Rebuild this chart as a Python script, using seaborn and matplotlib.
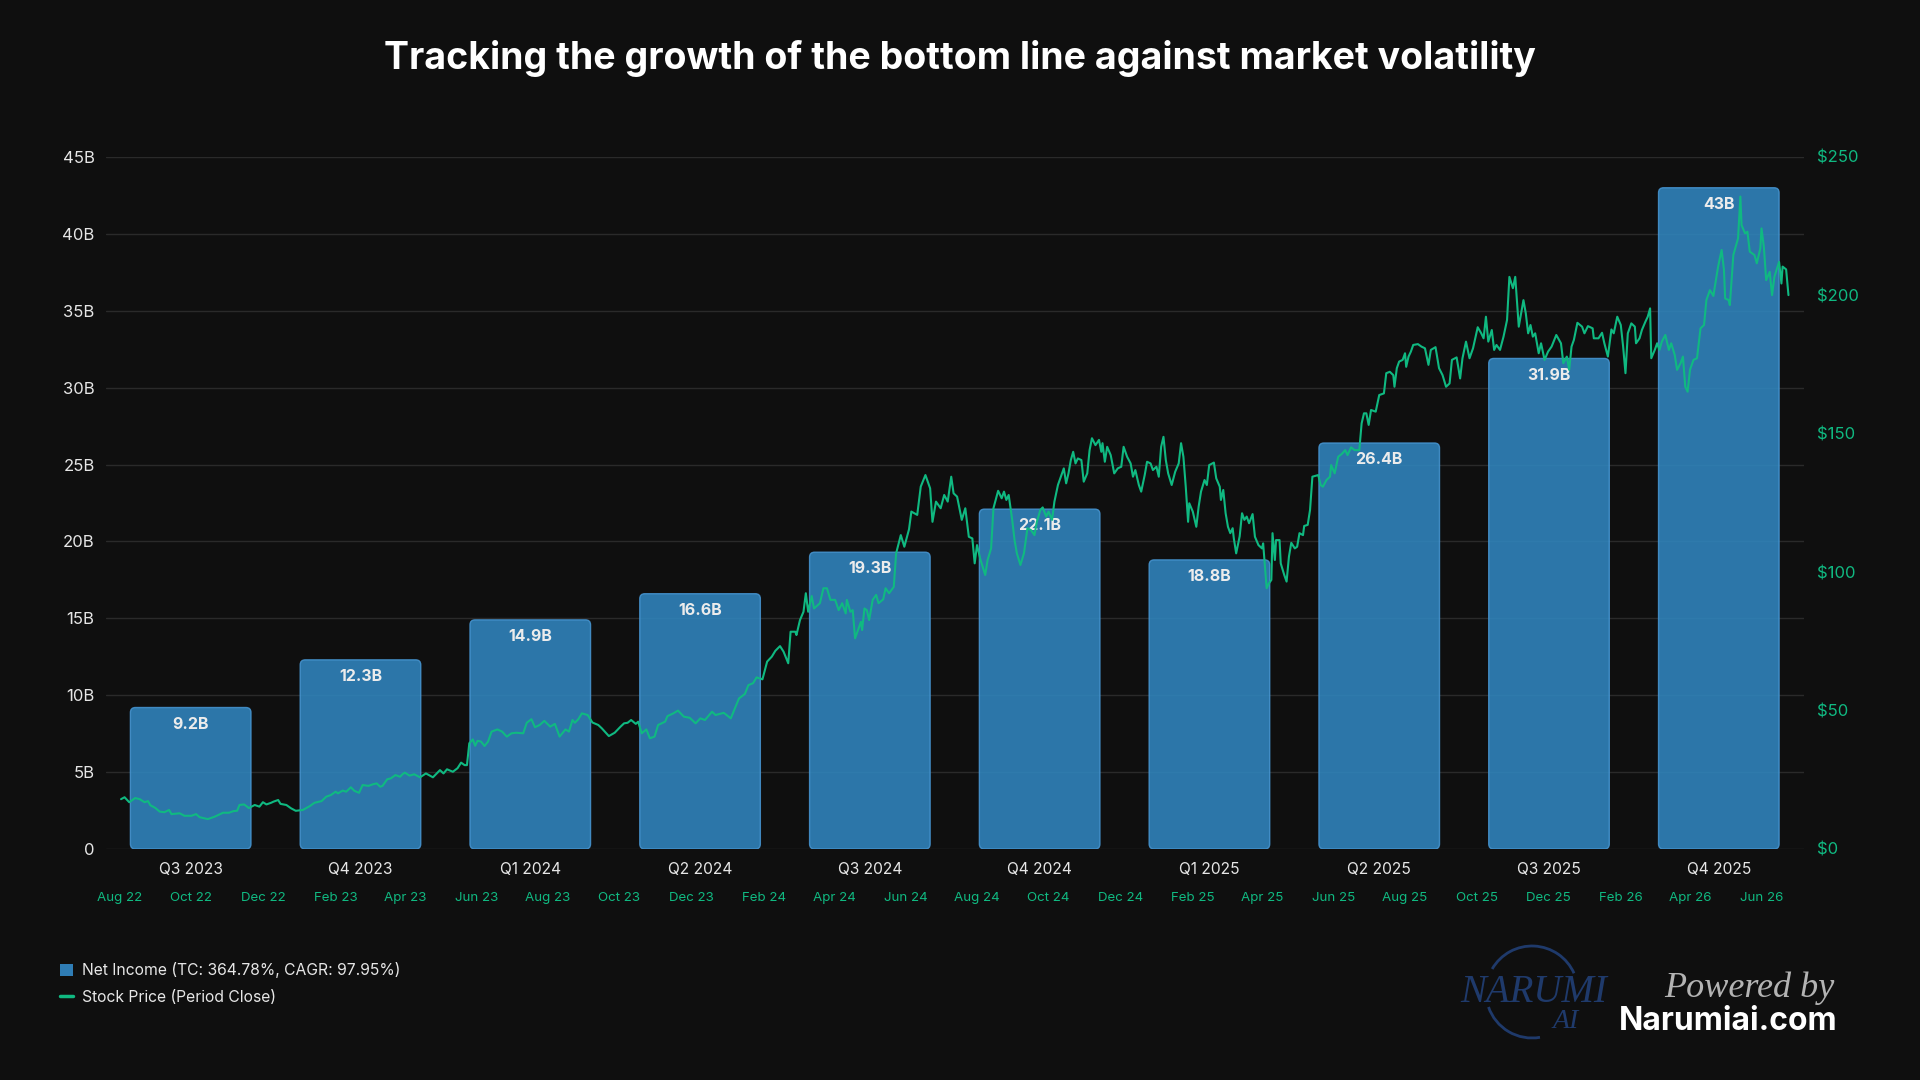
import matplotlib
matplotlib.use("Agg")
import matplotlib.pyplot as plt
import matplotlib.dates as mdates
from matplotlib.patches import FancyBboxPatch, Arc, Patch
from matplotlib.lines import Line2D
from matplotlib.ticker import FuncFormatter, MultipleLocator
import seaborn as sns
import pandas as pd

# ---------------- data ----------------
title = "Tracking the growth of the bottom line against market volatility"
quarters = ["Q3 2023", "Q4 2023", "Q1 2024", "Q2 2024", "Q3 2024",
            "Q4 2024", "Q1 2025", "Q2 2025", "Q3 2025", "Q4 2025"]
net_income_b = [9.2, 12.3, 14.9, 16.6, 19.3, 22.1, 18.8, 26.4, 31.9, 43.0]
bar_labels = ["9.2B", "12.3B", "14.9B", "16.6B", "19.3B",
              "22.1B", "18.8B", "26.4B", "31.9B", "43B"]
legend_labels = ["Net Income (TC: 364.78%, CAGR: 97.95%)",
                 "Stock Price (Period Close)"]

price_start = "2022-08-01"
price_days = [
    1, 4, 8, 13, 17, 21, 24, 26, 30, 34, 38, 42, 44, 51, 55, 61, 65, 68, 75, 81,
    88, 93, 97, 100, 102, 106, 110, 115, 119, 122, 125, 129, 131, 135, 137, 142, 146, 150, 156, 162,
    166, 172, 176, 180, 184, 186, 190, 193, 197, 200, 204, 207, 212, 216, 219, 222, 224, 228, 231, 235,
    239, 241,
    243, 247, 251, 256, 261, 267, 273, 276, 279, 284, 288, 291, 294, 296, 298, 301, 303, 305, 308, 311,
    314, 317, 322, 326, 330, 334, 338, 344, 347, 351, 354, 358, 362, 367, 371, 375, 380, 383, 386, 388,
    391, 394, 399, 403, 408, 411, 417, 422, 427, 430, 433, 436, 440, 442, 445, 449, 452, 456, 459, 465,
    467, 472, 476,
    481, 486, 491, 495, 499, 505, 508, 515, 521, 528, 533, 536, 540, 543, 548, 552, 556, 559, 563, 566,
    570, 572, 576, 577, 580, 583, 585, 587, 590, 592, 597, 600, 603, 606, 610, 613, 616, 619, 620, 623,
    625, 627, 632, 633, 635, 637, 639, 642, 645, 647, 651, 653, 656, 660, 662, 666, 669, 673, 675, 680,
    683, 687, 691, 693, 696, 700, 703, 706, 709, 711, 714,
    718, 721, 724, 727, 729, 731, 734, 738, 740, 743, 745, 749, 752, 754, 756, 758, 761, 763, 765, 768,
    771, 774, 777, 780, 782, 785, 787, 790, 792, 795, 797, 800, 802, 805, 807, 809, 811, 813, 815, 817,
    820, 822, 825, 827, 829, 832, 835, 837, 838, 840, 842, 845, 848, 851, 854, 856, 859, 862, 864, 866,
    869, 871, 874, 876, 879, 881, 884, 886, 888, 890, 892, 894, 897, 900, 903, 905, 907, 909, 911, 912,
    915, 918, 920, 922, 925, 927, 929, 933, 935, 938, 939, 941, 943, 945, 947, 949, 950, 952,
    955, 957, 959, 961, 963, 966, 968, 971, 974, 975, 978, 980, 982, 983, 985, 986, 989, 990, 993, 995,
    997, 999, 1002, 1004, 1006, 1009, 1010, 1013, 1015, 1017, 1022, 1024, 1026, 1029, 1032, 1033, 1036, 1039, 1042, 1045,
    1047, 1050, 1053, 1057, 1059, 1061, 1063, 1065, 1067, 1071, 1074, 1078, 1080, 1083, 1086, 1087, 1089, 1091, 1094, 1096,
    1097, 1099, 1101, 1103, 1107, 1110, 1113, 1116, 1118, 1122, 1125, 1128, 1131, 1134, 1136, 1140, 1143, 1145, 1148, 1151,
    1154, 1158, 1161, 1163, 1165, 1167, 1170, 1172, 1174, 1177, 1180, 1183, 1185, 1188, 1190,
    1193, 1197, 1199, 1201, 1203, 1205, 1207, 1210, 1212, 1215, 1218, 1221, 1225, 1229, 1231, 1234, 1236, 1238, 1240, 1243,
    1247, 1249, 1252, 1256, 1257, 1261, 1264, 1266, 1269, 1272, 1274, 1277, 1280, 1282, 1284, 1286, 1289, 1292, 1293, 1296,
    1298, 1301, 1303, 1305, 1306, 1309, 1311, 1313, 1315, 1318, 1321, 1323, 1326, 1328, 1331, 1333, 1335, 1337, 1339, 1342,
    1345, 1348, 1351, 1353, 1356, 1359, 1360, 1363, 1366, 1368, 1369, 1372, 1373, 1376, 1380, 1382, 1383, 1386, 1388, 1390,
    1394, 1396, 1399, 1400, 1402, 1404, 1407, 1409, 1411, 1415, 1417, 1418, 1421, 1423,
]
price_close = [
    18.0, 18.7, 16.9, 18.4, 18.0, 16.9, 17.3, 15.8, 14.9, 13.5, 13.3, 14.1, 12.6, 12.9, 12.0, 12.0, 12.6, 11.5, 10.8, 11.7,
    13.1, 13.1, 13.7, 13.8, 15.9, 16.1, 14.8, 15.9, 15.3, 16.9, 16.1, 16.7, 17.1, 17.7, 16.3, 15.9, 14.7, 13.8, 14.1, 15.5,
    16.7, 17.3, 18.9, 19.5, 20.7, 20.1, 21.1, 20.7, 22.3, 21.0, 20.3, 23.1, 22.8, 23.4, 23.7, 22.5, 22.8, 25.2, 25.5, 26.7,
    26.1, 27.0,
    27.6, 26.5, 27.0, 25.9, 27.3, 25.9, 28.5, 27.3, 28.8, 27.9, 29.2, 31.2, 30.3, 30.3, 38.2, 39.6, 37.3, 39.1, 38.8, 37.2,
    38.8, 42.4, 43.2, 42.4, 40.6, 41.8, 42.0, 41.8, 45.6, 46.9, 44.0, 44.8, 46.3, 44.2, 45.2, 40.6, 43.2, 42.4, 46.6, 45.6,
    46.9, 49.0, 48.4, 45.7, 44.8, 43.6, 40.8, 42.0, 44.2, 45.4, 45.6, 46.6, 45.2, 46.0, 41.8, 43.2, 40.0, 40.6, 44.8, 46.0,
    48.0, 49.0, 50.0,
    47.8, 47.4, 45.4, 47.2, 46.6, 49.6, 48.4, 49.2, 47.2, 54.4, 56.0, 59.2, 59.9, 62.0, 61.3, 67.7, 69.5, 71.6, 73.3, 71.3,
    67.1, 78.5, 78.5, 77.3, 82.7, 85.7, 92.4, 85.7, 91.4, 86.9, 88.8, 94.2, 94.2, 90.0, 90.0, 86.3, 88.8, 85.1, 90.0, 85.7,
    86.3, 76.1, 82.1, 79.1, 86.9, 86.3, 82.7, 90.0, 91.8, 88.8, 90.2, 94.2, 92.4, 94.7, 106.8, 113.4, 109.2, 115.5, 121.9, 120.7,
    130.9, 135.1, 130.3, 118.2, 125.5, 123.1, 127.9, 125.5, 134.5, 128.5, 127.3,
    118.9, 123.1, 112.8, 112.2, 103.2, 109.8, 104.4, 99.0, 104.4, 108.6, 123.1, 129.4, 126.7, 129.1, 126.1, 127.9, 118.9, 111.6, 106.8, 102.6,
    106.8, 115.9, 115.2, 113.4, 118.2, 122.5, 123.4, 120.1, 121.9, 118.9, 125.5, 131.5, 133.9, 137.5, 132.1, 135.7, 140.5, 143.5, 139.3, 141.1,
    140.5, 132.7, 135.7, 144.1, 148.4, 145.9, 147.8, 143.5, 146.6, 139.9, 145.3, 142.3, 135.7, 137.5, 138.1, 145.3, 141.7, 139.3, 134.5, 136.9,
    131.5, 129.1, 135.1, 139.9, 139.3, 136.9, 138.1, 134.5, 145.3, 148.9, 140.5, 135.7, 131.5, 136.3, 139.3, 146.6, 141.7, 130.9, 118.2, 124.9,
    121.9, 116.4, 123.7, 129.1, 133.3, 131.5, 138.7, 139.6, 133.9, 130.9, 126.1, 129.7, 121.3, 116.4, 114.1, 115.9, 112.2, 106.8,
    113.0, 121.3, 118.9, 120.1, 117.7, 121.0, 112.8, 109.8, 108.6, 110.4, 94.2, 96.0, 97.2, 114.1, 104.4, 111.6, 111.6, 103.2, 99.0, 96.6,
    105.6, 110.6, 108.6, 109.2, 114.1, 113.4, 116.7, 117.1, 122.5, 134.5, 135.1, 131.5, 130.9, 133.3, 134.5, 138.7, 135.7, 141.7, 142.7, 144.1,
    142.3, 145.1, 144.1, 144.1, 153.8, 157.4, 157.4, 153.2, 158.6, 158.0, 164.0, 164.6, 171.9, 172.4, 171.2, 167.0, 173.7, 176.1, 176.7, 179.1,
    174.2, 177.9, 179.7, 182.1, 182.4, 181.5, 180.9, 174.9, 180.3, 181.3, 173.7, 171.2, 167.0, 168.2, 176.7, 177.6, 170.0, 177.3, 183.3, 177.3,
    180.9, 188.5, 186.3, 184.5, 192.3, 183.3, 187.5, 180.3, 182.1, 180.3, 185.1, 191.1, 206.7, 202.6, 206.7,
    188.7, 198.3, 193.5, 186.3, 189.3, 185.1, 186.3, 179.1, 182.7, 176.7, 179.7, 181.5, 185.7, 182.7, 175.5, 177.9, 173.1, 181.5, 183.9, 190.1,
    188.7, 186.3, 188.9, 188.1, 184.5, 184.5, 186.5, 182.7, 177.9, 187.7, 186.3, 192.3, 189.3, 181.5, 171.9, 186.3, 189.9, 188.7, 182.7, 184.5,
    187.5, 190.5, 192.3, 195.3, 177.3, 180.3, 182.7, 180.3, 183.3, 185.7, 180.3, 182.7, 178.5, 173.1, 175.5, 177.9, 167.0, 165.2, 173.1, 176.7,
    177.3, 188.1, 189.3, 198.3, 201.9, 199.8, 202.6, 210.4, 216.4, 209.2, 198.9, 198.3, 196.5, 214.6, 220.6, 235.7, 225.4, 222.4, 223.0, 215.8,
    214.6, 211.6, 217.0, 224.2, 217.6, 205.5, 208.5, 200.1, 206.7, 212.1, 204.3, 210.4, 209.4, 200.1,
]

# ---------------- style ----------------
BG = "#0f0f0f"
BAR = "#3188c3"
BAR_EDGE = "#4796d3"
GREEN = "#10b981"
GRID = "#2a2a2a"
TXT = "#e6e6e6"

sns.set_theme(style="dark", rc={
    "axes.facecolor": BG, "figure.facecolor": BG,
    "axes.edgecolor": BG, "text.color": TXT,
})
plt.rcParams["font.family"] = ["Inter", "DejaVu Sans"]

fig = plt.figure(figsize=(19.2, 10.8), dpi=100)
fig.patch.set_facecolor(BG)
rect = [0.0551, 0.21389, 0.88433, 0.64074]

# ---------------- bars ----------------
ax = fig.add_axes(rect)
ax.set_facecolor(BG)
df_bars = pd.DataFrame({"quarter": quarters, "net_income": net_income_b})
sns.barplot(data=df_bars, x="quarter", y="net_income", ax=ax,
            color=BAR, width=0.71, saturation=1)
ax.set_xlim(-0.5, len(quarters) - 0.5)
ax.set_ylim(0, 45)

# rounded bars (same geometry as seaborn's bars)
fig.canvas.draw()
px_per_x = ax.bbox.width / (ax.get_xlim()[1] - ax.get_xlim()[0])
px_per_y = ax.bbox.height / (ax.get_ylim()[1] - ax.get_ylim()[0])
r_px = 5.0
rx = r_px / px_per_x
ry = r_px / px_per_y
for p in list(ax.patches):
    x, y, w, h = p.get_x(), p.get_y(), p.get_width(), p.get_height()
    p.remove()
    ax.add_patch(FancyBboxPatch((x, y), w, h,
                                boxstyle=f"round,pad=0,rounding_size={rx}",
                                mutation_aspect=ry / rx,
                                facecolor=BAR, edgecolor=BAR_EDGE, linewidth=1.0,
                                alpha=0.86, zorder=2))

for i, (v, lbl) in enumerate(zip(net_income_b, bar_labels)):
    ax.annotate(lbl, (i, v), xytext=(0, -12), textcoords="offset points",
                ha="center", va="center", fontsize=11.5, fontweight="bold",
                color="#ececec", zorder=5)

ax.yaxis.set_major_locator(MultipleLocator(5))
ax.yaxis.set_major_formatter(FuncFormatter(lambda v, _: "0" if v == 0 else f"{v:.0f}B"))
ax.yaxis.grid(True, color=GRID, linewidth=1.0)
ax.xaxis.grid(False)
ax.set_axisbelow(True)
ax.tick_params(axis="y", length=0, pad=8, labelsize=12, labelcolor=TXT)
ax.tick_params(axis="x", length=0, pad=9.5, labelsize=11.2, labelcolor=TXT)
ax.set_xlabel("")
ax.set_ylabel("")
for s in ax.spines.values():
    s.set_visible(False)

# ---------------- stock line ----------------
ax2 = fig.add_axes(rect)
ax2.patch.set_alpha(0)
dates = pd.to_datetime(price_start) + pd.to_timedelta(price_days, unit="D")
df_price = pd.DataFrame({"date": dates, "close": price_close})
sns.lineplot(data=df_price, x="date", y="close", ax=ax2, color=GREEN,
             linewidth=1.5, estimator=None)
ax2.set_xlim(dates.min() - pd.Timedelta(days=13), dates.max() + pd.Timedelta(days=13))
ax2.set_ylim(0, 250)
ax2.yaxis.tick_right()
ax2.yaxis.set_major_locator(MultipleLocator(50))
ax2.yaxis.set_major_formatter(FuncFormatter(lambda v, _: f"${v:.0f}"))
ax2.xaxis.set_major_locator(mdates.MonthLocator(bymonth=(2, 4, 6, 8, 10, 12)))
ax2.xaxis.set_major_formatter(mdates.DateFormatter("%b %y"))
ax2.tick_params(axis="y", length=0, pad=9.5, labelsize=12, labelcolor=GREEN)
ax2.tick_params(axis="x", length=0, pad=31, labelsize=9.6, labelcolor=GREEN)
ax2.grid(False)
ax2.set_xlabel("")
ax2.set_ylabel("")
for s in ax2.spines.values():
    s.set_visible(False)

# ---------------- title ----------------
fig.text(0.5, 0.946, title, ha="center", va="center", fontsize=27,
         fontweight="bold", color="white")

# ---------------- legend ----------------
handles = [Patch(facecolor="#2f7db5", edgecolor="none"),
           Line2D([0], [0], color=GREEN, linewidth=2.5)]
fig.legend(handles, legend_labels, loc="upper left", bbox_to_anchor=(0.0315, 0.109),
           frameon=False, fontsize=11.3, labelcolor=TXT, handlelength=0.8,
           handleheight=0.8, handletextpad=0.6, labelspacing=0.75, borderpad=0,
           borderaxespad=0)

# ---------------- watermark ----------------
wm = fig.add_axes([0, 0, 1, 1], facecolor="none")
wm.set_xlim(0, 1920)
wm.set_ylim(1080, 0)
wm.axis("off")
NAVY = "#1f3a6b"
wm.add_patch(Arc((1532, 992), 92, 92, theta1=210, theta2=336, color=NAVY, lw=2))
wm.add_patch(Arc((1532, 992), 92, 92, theta1=80, theta2=161, color=NAVY, lw=2))
wm.text(1534, 992, "NARUMI", ha="center", va="center", fontsize=28,
        family=["Liberation Serif", "DejaVu Serif"], style="italic", color=NAVY)
wm.text(1566, 1022, "AI", ha="center", va="center", fontsize=20,
        family=["Liberation Serif", "DejaVu Serif"], style="italic", color=NAVY)
wm.text(1749, 988, "Powered by", ha="center", va="center", fontsize=26,
        family=["Liberation Serif", "DejaVu Serif"], style="italic", color="#b3b3b3")
wm.text(1728, 1022, "Narumiai.com", ha="center", va="center", fontsize=23,
        fontweight="bold", color="white")

fig.savefig("out.png", dpi=100, facecolor=BG)
